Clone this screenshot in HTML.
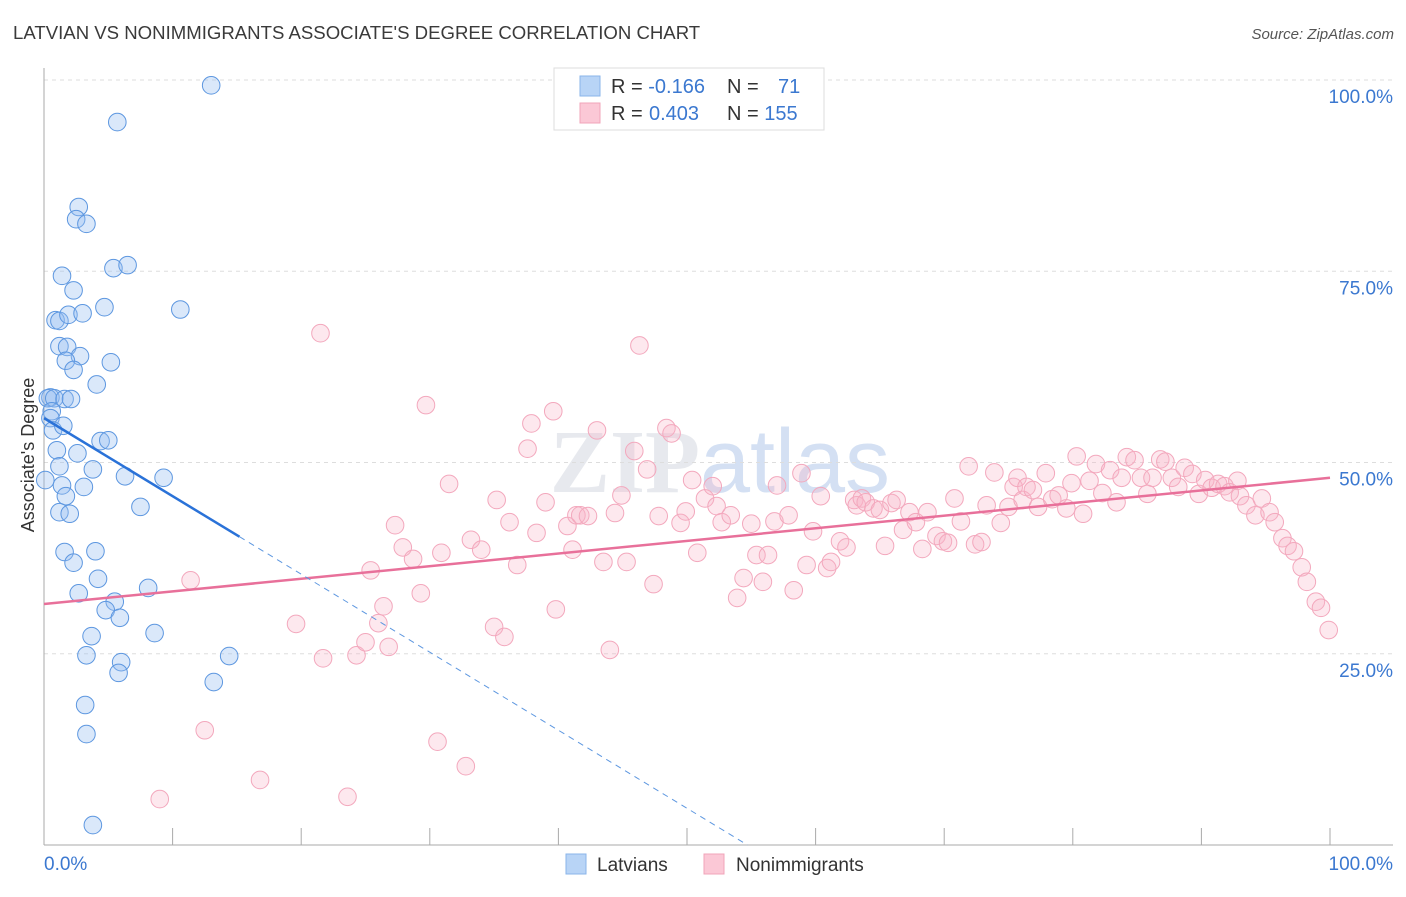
<!DOCTYPE html>
<html><head><meta charset="utf-8">
<style>
body{margin:0;background:#fff;font-family:"Liberation Sans",sans-serif;}
svg text{font-family:"Liberation Sans",sans-serif;}
</style></head>
<body>
<svg id="chart" width="1406" height="892" xmlns="http://www.w3.org/2000/svg">
<text x="13" y="39" font-size="18.6" fill="#3a3a3a">LATVIAN VS NONIMMIGRANTS ASSOCIATE'S DEGREE CORRELATION CHART</text>
<text x="1394" y="39" font-size="15" fill="#555" font-style="italic" text-anchor="end">Source: ZipAtlas.com</text>
<text x="720" y="492" font-size="90" text-anchor="middle" fill="#d8dce4" opacity="0.6"><tspan font-family="Liberation Serif" font-weight="bold">ZIP</tspan><tspan fill="#b8cdec">atlas</tspan></text>
<g id="grid"></g>
<g id="axes"></g>
<g id="marks"></g>
<text transform="translate(34,455) rotate(-90)" font-size="18" fill="#333" text-anchor="middle">Associate's Degree</text>
<g>
<rect x="554" y="68" width="270" height="62" fill="#fff" stroke="#ddd"/>
<rect x="580" y="76" width="20" height="20" fill="#b8d4f6" stroke="#8ab4ea"/>
<rect x="580" y="103" width="20" height="20" fill="#fbc8d6" stroke="#f0a4b9"/>
<text x="611" y="93" font-size="20" fill="#333">R = <tspan fill="#3b78d0">-0.166</tspan></text>
<text x="727" y="93" font-size="20" fill="#333">N = <tspan fill="#3b78d0" x="778">71</tspan></text>
<text x="611" y="120" font-size="20" fill="#333">R = <tspan fill="#3b78d0" x="649">0.403</tspan></text>
<text x="727" y="120" font-size="20" fill="#333">N = <tspan fill="#3b78d0">155</tspan></text>
</g>
<g>
<rect x="566" y="854" width="20" height="20" fill="#b8d4f6" stroke="#8ab4ea"/>
<text x="597" y="871" font-size="19" fill="#333">Latvians</text>
<rect x="704" y="854" width="20" height="20" fill="#fbc8d6" stroke="#f0a4b9"/>
<text x="736" y="871" font-size="19" fill="#333">Nonimmigrants</text>
</g>
</svg>
<script>
const yTicks=[25,50,75,100];
const yTickLabels=["25.0%","50.0%","75.0%","100.0%"];
const xTicks=[0,10,20,30,40,50,60,70,80,90,100];
const xEndLabels=["0.0%","100.0%"];
const latX=[13.0,5.7,2.7,2.5,3.3,5.4,6.5,1.4,2.3,10.6,4.7,0.9,1.2,1.9,3.0,1.2,1.8,2.8,1.7,2.3,5.2,4.1,0.5,0.3,0.8,1.6,2.1,0.6,0.5,0.7,1.5,1.0,2.6,4.4,5.0,1.2,3.8,6.3,9.3,1.4,3.1,1.7,1.2,2.0,7.5,1.6,4.0,2.3,4.2,2.7,8.1,5.5,4.8,5.9,8.6,3.7,3.3,6.0,5.8,14.4,13.2,3.2,3.3,3.8,0.1];
const latY=[99.3,94.5,83.4,81.8,81.2,75.4,75.8,74.4,72.5,70.0,70.3,68.6,68.5,69.3,69.5,65.2,65.1,63.9,63.3,62.1,63.1,60.2,58.5,58.4,58.4,58.3,58.3,56.7,55.8,54.2,54.8,51.6,51.2,52.8,52.9,49.5,49.1,48.2,48.0,47.0,46.8,45.6,43.5,43.3,44.2,38.3,38.4,36.9,34.8,32.9,33.6,31.8,30.7,29.7,27.7,27.3,24.8,23.9,22.5,24.7,21.3,18.3,14.5,2.6,47.7];
const nonX=[9.0,11.4,12.5,16.8,19.6,21.7,21.5,23.6,24.3,25.0,25.4,26.0,26.4,26.8,27.3,27.9,28.7,29.3,29.7,30.9,30.6,31.5,32.8,33.2,34.0,35.0,35.2,35.8,36.2,36.8,37.6,37.9,38.3,39.0,39.6,39.8,40.7,41.1,41.4,41.7,42.3,43.0,43.5,44.0,44.4,44.9,45.3,45.9,46.3,46.9,47.4,47.8,48.4,48.8,49.5,49.9,50.4,50.8,51.4,52.0,52.3,52.7,53.4,53.9,54.4,55.0,55.4,55.9,56.3,56.8,57.0,57.9,58.3,58.9,59.3,59.8,60.4,60.9,61.2,61.9,62.4,63.0,63.2,63.6,63.9,64.5,65.0,65.4,65.9,66.3,66.8,67.3,67.8,68.3,68.7,69.4,69.9,70.3,70.8,71.3,71.9,72.4,72.9,73.3,73.9,74.4,75.0,75.4,75.7,76.1,76.4,76.9,77.3,77.9,78.4,78.9,79.5,79.9,80.3,80.8,81.3,81.8,82.3,82.9,83.4,83.8,84.2,84.8,85.3,85.8,86.2,86.8,87.2,87.7,88.2,88.7,89.3,89.8,90.3,90.8,91.3,91.8,92.2,92.8,93.0,93.5,94.2,94.7,95.3,95.7,96.3,96.7,97.2,97.8,98.2,98.9,99.3,99.9];
const nonY=[6.0,34.6,15.0,8.5,28.9,24.4,66.9,6.3,24.8,26.5,35.9,29.0,31.2,25.9,41.8,38.9,37.4,32.9,57.5,38.2,13.5,47.2,10.3,39.9,38.6,28.5,45.1,27.2,42.2,36.6,51.8,55.1,40.8,44.8,56.7,30.8,41.7,38.6,43.1,43.1,43.0,54.2,37.0,25.5,43.4,45.7,37.0,51.5,65.3,49.1,34.1,43.0,54.5,53.8,42.1,43.6,47.7,38.2,45.3,46.9,44.3,42.2,43.1,32.3,34.9,42.0,37.9,34.4,37.9,42.3,47.0,43.1,33.3,48.6,36.6,41.0,45.6,36.2,37.0,39.7,38.9,45.1,44.4,45.3,44.8,44.0,43.8,39.1,44.7,45.1,41.2,43.5,42.2,38.7,43.5,40.4,39.7,39.5,45.3,42.3,49.5,39.3,39.6,44.4,48.7,42.1,44.2,46.8,48.0,45.1,46.8,46.4,44.2,48.6,45.2,45.7,44.0,47.3,50.8,43.3,47.6,49.8,46.0,49.0,44.8,48.0,50.7,50.3,48.0,45.9,48.0,50.4,50.1,48.0,46.8,49.3,48.5,45.9,47.7,46.7,47.2,46.9,46.1,47.6,45.6,44.4,43.1,45.3,43.5,42.2,40.1,39.1,38.4,36.3,34.4,31.8,31.0,28.1];
const latTrend=[55.8,-1.02];
const latSolidEnd=15.2;
const nonTrend=[31.5,0.165];

const X0=44,X1=1330,Y0=845,Y1=80;
const sx=v=>X0+(X1-X0)*v/100;
const sy=v=>Y0-(Y0-Y1)*v/100;
const NS="http://www.w3.org/2000/svg";
function mk(tag,attrs,parent){const e=document.createElementNS(NS,tag);for(const k in attrs)e.setAttribute(k,attrs[k]);parent.appendChild(e);return e;}
const grid=document.getElementById('grid'),axes=document.getElementById('axes'),marks=document.getElementById('marks');
yTicks.forEach((t,i)=>{
  const l=mk('line',{x1:X0,x2:1393,y1:sy(t),y2:sy(t),stroke:'#ddd','stroke-dasharray':'4,4'},grid);
  
  
  const tx=mk('text',{x:1393,y:sy(t)+23,'font-size':19,fill:'#3b78d0','text-anchor':'end'},axes);
  tx.textContent=yTickLabels[i];
  
  
});
const ya=mk('line',{x1:X0,x2:X0,y1:68,y2:Y0,stroke:'#aaa'},axes);


const xa=mk('line',{x1:X0,x2:1393,y1:Y0,y2:Y0,stroke:'#aaa'},axes);


xTicks.forEach(t=>{
  const tk=mk('line',{x1:sx(t),x2:sx(t),y1:Y0,y2:Y0-17,stroke:'#aaa'},axes);
  
  
});
const xl0=mk('text',{x:X0,y:870,'font-size':19,fill:'#3b78d0'},axes);xl0.textContent=xEndLabels[0];


const xl1=mk('text',{x:1393,y:870,'font-size':19,fill:'#3b78d0','text-anchor':'end'},axes);xl1.textContent=xEndLabels[1];



nonX.forEach((x,i)=>{
  const c=mk('circle',{cx:sx(x),cy:sy(nonY[i]),r:8.8,fill:'rgba(248,180,200,0.3)',stroke:'#f3a8bd','stroke-width':1},marks);
  
  
});
latX.forEach((x,i)=>{
  const c=mk('circle',{cx:sx(x),cy:sy(latY[i]),r:8.8,fill:'rgba(150,190,240,0.35)',stroke:'#5d97e0','stroke-width':1},marks);
  
  
});
const nt=mk('line',{x1:sx(0),y1:sy(nonTrend[0]),x2:sx(100),y2:sy(nonTrend[0]+nonTrend[1]*100),stroke:'#e8709a','stroke-width':2.5},marks);


const ls=mk('line',{x1:sx(0),y1:sy(latTrend[0]),x2:sx(latSolidEnd),y2:sy(latTrend[0]+latTrend[1]*latSolidEnd),stroke:'#2a72d8','stroke-width':2.5},marks);


const xz=-latTrend[0]/latTrend[1];
const ld=mk('line',{x1:sx(latSolidEnd),y1:sy(latTrend[0]+latTrend[1]*latSolidEnd),x2:sx(xz),y2:sy(0),stroke:'#5d97e0','stroke-width':1,'stroke-dasharray':'6,5'},marks);


</script>
</body></html>
